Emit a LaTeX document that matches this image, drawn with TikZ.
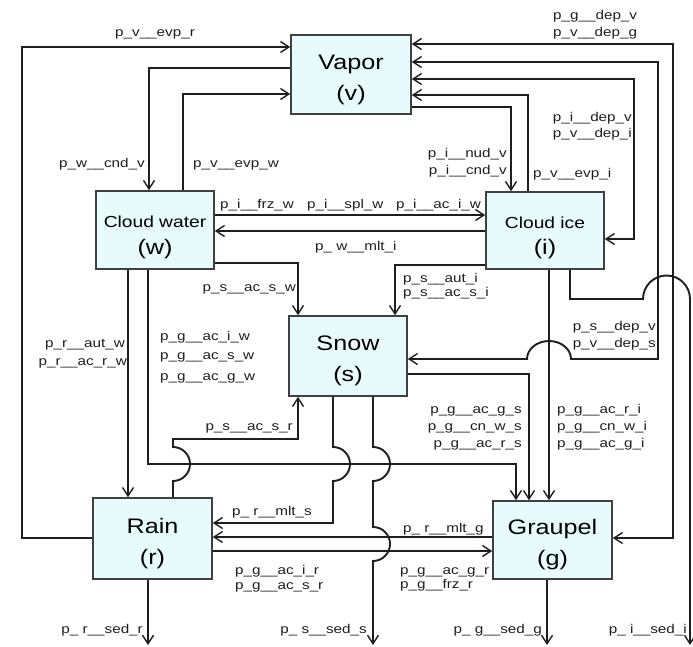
\documentclass[tikz,border=0pt]{standalone}
\usepackage{fontspec}
\setmainfont{Liberation Sans}[FakeStretch=1.2]
\usetikzlibrary{arrows.meta}
\definecolor{boxfill}{RGB}{232,251,252}
\definecolor{ink}{RGB}{30,30,30}
\newcommand{\topstrut}[1]{\rule{0pt}{#1}}
\begin{document}
\begin{tikzpicture}[x=1pt,y=-1pt,
  box/.style={draw=ink!85, line width=1.6pt, fill=boxfill, align=center, inner sep=0pt, font=\fontsize{21}{31}\selectfont},
  conn/.style={draw=ink, line width=1.4pt},
  curved/.style={line width=1.9pt},
  arr/.style={conn, -{Straight Barb[length=8.5pt,width=11pt,line width=1.4pt]}},
  darr/.style={conn, {Straight Barb[length=8.5pt,width=11pt,line width=1.4pt]}-{Straight Barb[length=8.5pt,width=11pt,line width=1.4pt]}},
  lbl/.style={font=\fontsize{12.7}{15}\selectfont, inner sep=0pt, text=ink}]
\useasboundingbox (0,0) rectangle (693,647);
\fill[white] (0,0) rectangle (693,647);

% boxes
\node[box, minimum width=120pt, minimum height=79pt] (vapor) at (351,74.5) {\topstrut{25pt}Vapor\\(v)};
\node[box, minimum width=118pt, minimum height=78pt] (water) at (155,230) {\topstrut{25.5pt}{\fontsize{16}{26}\selectfont Cloud water}\\[-4pt](w)};
\node[box, minimum width=118pt, minimum height=77pt] (ice) at (545,230.5) {\topstrut{25.5pt}{\fontsize{16}{26}\selectfont Cloud ice}\\[-5pt](i)};
\node[box, minimum width=118pt, minimum height=80pt] (snow) at (348,356) {\topstrut{25pt}Snow\\(s)};
\node[box, minimum width=119pt, minimum height=81pt] (rain) at (152.5,538.5) {\topstrut{25pt}Rain\\(r)};
\node[box, minimum width=119pt, minimum height=78pt] (graupel) at (552.5,540) {\topstrut{25pt}Graupel\\(g)};

\coordinate (rsedEnd) at (148,645);
\coordinate (ssedEnd) at (373,645);
\coordinate (gsedEnd) at (547,645);
\coordinate (isedEnd) at (690,645);

% connectors
\draw[arr] (rain.west |- 0,538) -- (22,538) -- (22,47) -- (vapor.west |- 0,47);
\draw[arr] (vapor.west |- 0,68) -| (water.north -| 149,0);
\draw[arr] (water.north -| 183,0) |- (vapor.west |- 0,94);
\draw[arr] (vapor.east |- 0,107) -| (ice.north -| 511,0);
\draw[arr] (ice.north -| 528,0) |- (vapor.east |- 0,95);
\draw[darr] (vapor.east |- 0,79) -- (634,79) -- (634,239) -- (ice.east |- 0,239);
\draw[darr, curved] (vapor.east |- 0,62) -- (658,62) -- (658,359) -- (571,359)
   arc[start angle=0, end angle=-180, x radius=22, y radius=18] -- (snow.east |- 0,359);
\draw[darr] (vapor.east |- 0,44) -- (673,44) -- (673,538) -- (graupel.east |- 0,538);
\draw[arr, curved] (ice.south -| 570,0) -- (570,299) -- (643,299)
   arc[start angle=180, end angle=360, radius=23.5] -- (isedEnd);
\draw[arr] (ice.south -| 549,0) -- (graupel.north -| 549,0);
\draw[arr] (snow.east |- 0,374) -| (graupel.north -| 529,0);
\draw[arr] (water.south -| 148,0) |- (516,464) -- (graupel.north -| 516,0);
\draw[arr] (water.south -| 128,0) -- (rain.north -| 128,0);
\draw[arr] (water.east |- 0,263) -| (snow.north -| 298,0);
\draw[arr] (ice.west |- 0,265) -| (snow.north -| 395,0);
\draw[arr] (water.east |- 0,215) -- (ice.west |- 0,215);
\draw[arr] (ice.west |- 0,231) -- (water.east |- 0,231);
\draw[arr, curved] (rain.north -| 173,0) -- (173,481)
   arc[start angle=90, end angle=-90, radius=17] -- (173,439) -| (snow.south -| 298,0);
\draw[arr, curved] (snow.south -| 333,0) -- (333,447)
   arc[start angle=-90, end angle=90, radius=17] -- (333,523) -- (rain.east |- 0,523);
\draw[arr, curved] (snow.south -| 373,0) -- (373,447)
   arc[start angle=-90, end angle=90, radius=17] -- (373,527)
   arc[start angle=-90, end angle=90, radius=17] -- (ssedEnd);
\draw[arr] (graupel.west |- 0,537) -- (rain.east |- 0,537);
\draw[arr] (rain.east |- 0,551) -- (graupel.west |- 0,551);
\draw[arr] (rain.south -| 148,0) -- (rsedEnd);
\draw[arr] (graupel.south -| 547,0) -- (gsedEnd);

% labels
\node[lbl, anchor=base west] (l01) at (115,37) {p\_v\_\_evp\_r};
\node[lbl, anchor=base east] (l02) at (145,168) {p\_w\_\_cnd\_v};
\node[lbl, anchor=base west] (l03) at (193,168) {p\_v\_\_evp\_w};
\node[lbl, anchor=base west] (l04) at (553,20) {p\_g\_\_dep\_v};
\node[lbl, anchor=base west] (l05) at (553,37) {p\_v\_\_dep\_g};
\node[lbl, anchor=base east] (l06) at (632,122) {p\_i\_\_dep\_v};
\node[lbl, anchor=base east] (l07) at (632,138) {p\_v\_\_dep\_i};
\node[lbl, anchor=base east] (l08) at (507,158) {p\_i\_\_nud\_v};
\node[lbl, anchor=base east] (l09) at (507,175) {p\_i\_\_cnd\_v};
\node[lbl, anchor=base west] (l10) at (533,178) {p\_v\_\_evp\_i};
\node[lbl, anchor=base west] (l11) at (220,208) {p\_i\_\_frz\_w};
\node[lbl, anchor=base west] (l12) at (307,208) {p\_i\_\_spl\_w};
\node[lbl, anchor=base west] (l13) at (396,208) {p\_i\_\_ac\_i\_w};
\node[lbl, anchor=base west] (l14) at (315,250) {p\_ w\_\_mlt\_i};
\node[lbl, anchor=base east] (l15) at (296,291) {p\_s\_\_ac\_s\_w};
\node[lbl, anchor=base west] (l16) at (403,282) {p\_s\_\_aut\_i};
\node[lbl, anchor=base west] (l17) at (403,296) {p\_s\_\_ac\_s\_i};
\node[lbl, anchor=base east] (l18) at (125,347) {p\_r\_\_aut\_w};
\node[lbl, anchor=base east] (l19) at (127,365) {p\_r\_\_ac\_r\_w};
\node[lbl, anchor=base west] (l20) at (160,340) {p\_g\_\_ac\_i\_w};
\node[lbl, anchor=base west] (l21) at (160,359) {p\_g\_\_ac\_s\_w};
\node[lbl, anchor=base west] (l22) at (160,380) {p\_g\_\_ac\_g\_w};
\node[lbl, anchor=base east] (l23) at (293,430) {p\_s\_\_ac\_s\_r};
\node[lbl, anchor=base east] (l24) at (522,413) {p\_g\_\_ac\_g\_s};
\node[lbl, anchor=base east] (l25) at (522,430) {p\_g\_\_cn\_w\_s};
\node[lbl, anchor=base east] (l26) at (522,447) {p\_g\_\_ac\_r\_s};
\node[lbl, anchor=base west] (l27) at (557,413) {p\_g\_\_ac\_r\_i};
\node[lbl, anchor=base west] (l28) at (557,430) {p\_g\_\_cn\_w\_i};
\node[lbl, anchor=base west] (l29) at (557,447) {p\_g\_\_ac\_g\_i};
\node[lbl, anchor=base east] (l30) at (656,330) {p\_s\_\_dep\_v};
\node[lbl, anchor=base east] (l31) at (656,347) {p\_v\_\_dep\_s};
\node[lbl, anchor=base west] (l32) at (232,515) {p\_ r\_\_mlt\_s};
\node[lbl, anchor=base west] (l33) at (403,532) {p\_ r\_\_mlt\_g};
\node[lbl, anchor=base west] (l34) at (235,574) {p\_g\_\_ac\_i\_r};
\node[lbl, anchor=base west] (l35) at (235,589) {p\_g\_\_ac\_s\_r};
\node[lbl, anchor=base west] (l36) at (400,574) {p\_g\_\_ac\_g\_r};
\node[lbl, anchor=base west] (l37) at (400,588) {p\_g\_\_frz\_r};
\node[lbl, anchor=base east] (l38) at (143,633) {p\_ r\_\_sed\_r};
\node[lbl, anchor=base east] (l39) at (367,633) {p\_ s\_\_sed\_s};
\node[lbl, anchor=base east] (l40) at (542,633) {p\_ g\_\_sed\_g};
\node[lbl, anchor=base east] (l41) at (687,633) {p\_ i\_\_sed\_i};
\end{tikzpicture}
\end{document}
